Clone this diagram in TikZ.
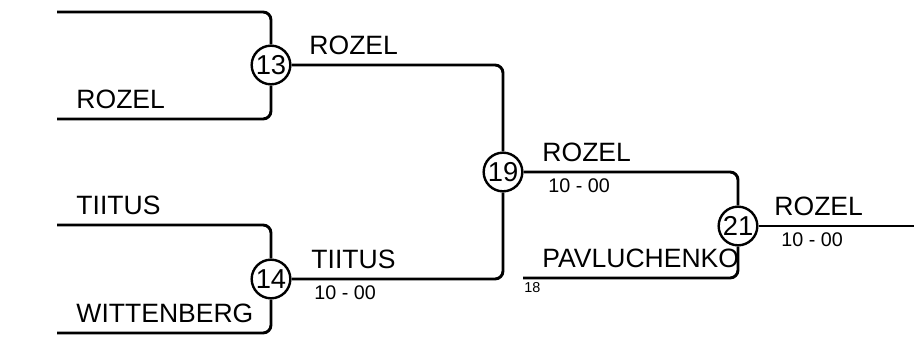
\documentclass[tikz,border=0pt]{standalone}
\usepackage{fontspec}
\setmainfont{Liberation Sans}

\begin{document}
\begin{tikzpicture}[x=0.75pt,y=-0.75pt,line width=2.2pt,rounded corners=6pt,
   game/.style={circle,draw,line width=1.8pt,inner sep=0pt,minimum size=29pt,fill=white,
     font=\fontsize{20.5}{21}\selectfont},
   player/.style={anchor=base west,inner sep=0pt,font=\fontsize{19.9}{20}\selectfont},
   result/.style={anchor=base west,inner sep=0pt,font=\fontsize{14.8}{15}\selectfont},
   seed/.style={anchor=base west,inner sep=0pt,font=\fontsize{10.8}{11}\selectfont}]
  \useasboundingbox (0,0) rectangle (914,338);
  % games
  \node[game] (m13) at (271,65) {13};
  \node[game] (m14) at (271,279) {14};
  \node[game] (m19) at (503,172) {19};
  \node[game] (m21) at (738,226) {21};
  % free ends
  \coordinate (e13a) at (57,12);
  \coordinate (e13b) at (57,119);
  \coordinate (e14a) at (57,225);
  \coordinate (e14b) at (57,333);
  \coordinate (e18) at (523,278);
  \coordinate (fin) at (914,226);
  % lines
  \draw (e13a) -| (m13);
  \draw (e13b) -| (m13);
  \draw (e14a) -| (m14);
  \draw (e14b) -| (m14);
  \draw (m13) -| (m19);
  \draw (m14) -| (m19);
  \draw (m19) -| (m21);
  \draw (e18) -| (m21);
  \draw (m21) -- (fin);
  % names and results
  \node[player] (p13b) at (75,109) {ROZEL};
  \node[player] (p14a) at (75,215) {TIITUS};
  \node[player] (p14b) at (75,323) {WITTENBERG};
  \node[player] (w13) at (308,55) {ROZEL};
  \node[player] (w14) at (310,269) {TIITUS};
  \node[result] (r14) at (313,300) {10 - 00};
  \node[player] (w19) at (541,162) {ROZEL};
  \node[result] (r19) at (547,193) {10 - 00};
  \node[player] (p18) at (541,268) {PAVLUCHENKO};
  \node[seed] (s18) at (523,293) {18};
  \node[player] (w21) at (773,216) {ROZEL};
  \node[result] (r21) at (780,247) {10 - 00};
\end{tikzpicture}
\end{document}
